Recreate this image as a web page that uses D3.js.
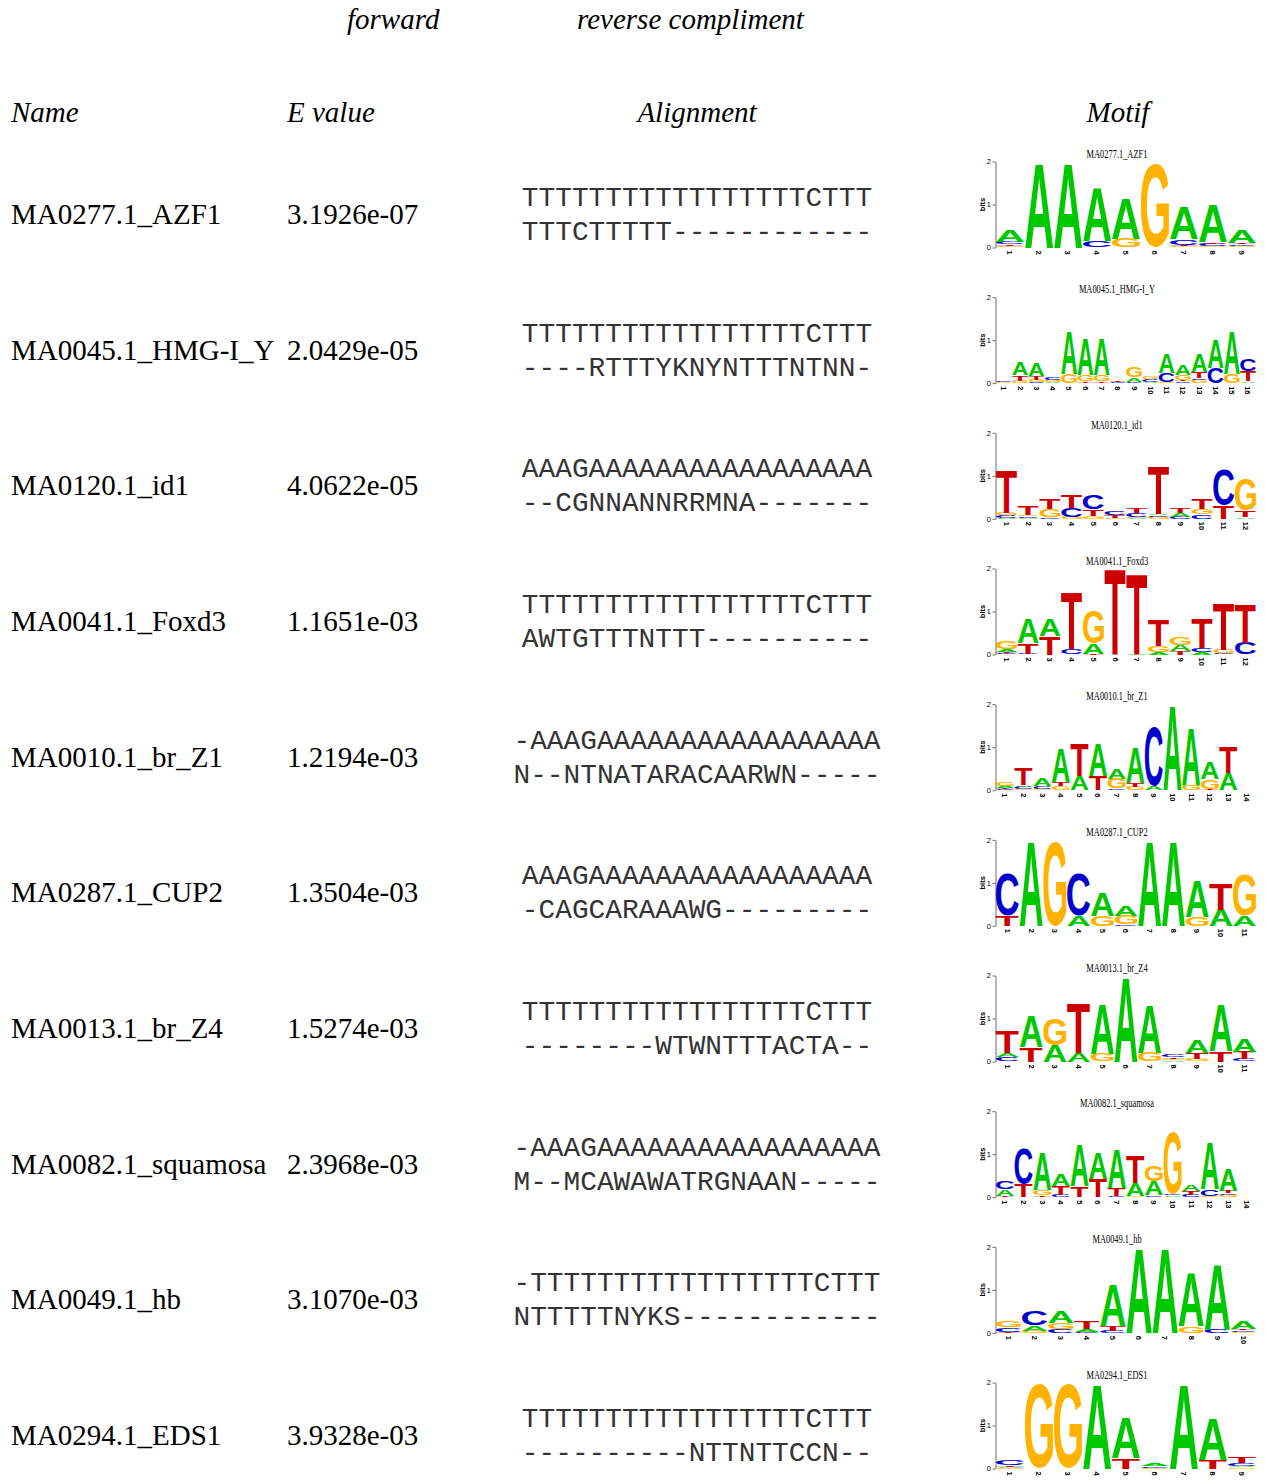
<!DOCTYPE html>
<html>
<head>
<meta charset="utf-8">
<script src="https://cdn.jsdelivr.net/npm/d3@7"></script>
<style>
  body { margin: 0; background: #fff; }
  svg { display: block; }
</style>
</head>
<body>
<svg id="chart" width="1265" height="1480"></svg>
<script>
// table rows
var motifNames = ["MA0277.1_AZF1", "MA0045.1_HMG-I_Y", "MA0120.1_id1", "MA0041.1_Foxd3", "MA0010.1_br_Z1",
  "MA0287.1_CUP2", "MA0013.1_br_Z4", "MA0082.1_squamosa", "MA0049.1_hb", "MA0294.1_EDS1"];
var eValues = ["3.1926e-07", "2.0429e-05", "4.0622e-05", "1.1651e-03", "1.2194e-03",
  "1.3504e-03", "1.5274e-03", "2.3968e-03", "3.1070e-03", "3.9328e-03"];
var alignTop = [
  "TTTTTTTTTTTTTTTTTCTTT", "TTTTTTTTTTTTTTTTTCTTT", "AAAGAAAAAAAAAAAAAAAAA", "TTTTTTTTTTTTTTTTTCTTT",
  "-AAAGAAAAAAAAAAAAAAAAA", "AAAGAAAAAAAAAAAAAAAAA", "TTTTTTTTTTTTTTTTTCTTT", "-AAAGAAAAAAAAAAAAAAAAA",
  "-TTTTTTTTTTTTTTTTTCTTT", "TTTTTTTTTTTTTTTTTCTTT"];
var alignBottom = [
  "TTTCTTTTT------------", "----RTTTYKNYNTTTNTNN-", "--CGNNANNRRMNA-------", "AWTGTTTNTTT----------",
  "N--NTNATARACAARWN-----", "-CAGCARAAAWG---------", "--------WTWNTTTACTA--", "M--MCAWAWATRGNAAN-----",
  "NTTTTTNYKS------------", "----------NTTNTTCCN--"];

// logo stacks, bottom to top, heights in bits
var logoAZF1 = [
  [["G",0.03],["T",0.04],["C",0.05],["A",0.26]], [["A",1.95]], [["A",1.95]],
  [["C",0.15],["A",1.24]], [["G",0.2],["A",0.93]], [["G",1.94]],
  [["G",0.03],["T",0.03],["C",0.13],["A",0.76]], [["G",0.03],["C",0.05],["T",0.04],["A",0.88]],
  [["G",0.03],["C",0.04],["T",0.03],["A",0.3]]];
var logoHMG = [
  [["G",0.02],["C",0.02]], [["G",0.06],["T",0.12],["A",0.3]], [["C",0.03],["G",0.05],["T",0.08],["A",0.29]],
  [["A",0.02],["G",0.06],["C",0.07]], [["G",0.22],["A",0.98]], [["T",0.04],["G",0.15],["A",0.84]],
  [["T",0.04],["G",0.15],["A",0.84]], [["C",0.02],["T",0.03]], [["C",0.03],["A",0.1],["G",0.23]],
  [["A",0.03],["C",0.07],["G",0.07]], [["G",0.03],["C",0.2],["A",0.45]], [["C",0.04],["T",0.03],["G",0.12],["A",0.25]],
  [["G",0.08],["C",0.03],["T",0.14],["A",0.42]], [["C",0.35],["A",0.66]], [["G",0.22],["A",0.98]],
  [["A",0.04],["T",0.24],["C",0.27]]];
var logoId1 = [
  [["A",0.03],["C",0.05],["G",0.05],["T",0.98]], [["A",0.03],["C",0.04],["G",0.03],["T",0.2]],
  [["C",0.04],["G",0.18],["T",0.25]], [["G",0.05],["C",0.2],["T",0.3]], [["G",0.06],["T",0.16],["C",0.32]],
  [["G",0.03],["T",0.05],["C",0.1]], [["A",0.02],["G",0.03],["C",0.08],["T",0.13]],
  [["G",0.05],["C",0.03],["A",0.04],["T",1.13]], [["C",0.05],["A",0.08],["T",0.13]],
  [["C",0.1],["G",0.12],["T",0.24]], [["T",0.3],["C",0.82]], [["A",0.04],["T",0.15],["G",0.72]]];
var logoFoxd3 = [
  [["C",0.03],["T",0.03],["A",0.06],["G",0.17]], [["C",0.02],["T",0.25],["A",0.57]], [["T",0.42],["A",0.38]],
  [["C",0.12],["T",1.33]], [["T",0.02],["A",0.24],["G",0.77]], [["T",2.0]], [["A",0.02],["T",1.87]],
  [["A",0.05],["G",0.15],["T",0.6]], [["T",0.08],["A",0.15],["G",0.18]], [["A",0.06],["C",0.1],["T",0.69]],
  [["C",0.03],["G",0.08],["T",1.1]], [["C",0.27],["T",0.91]]];
var logoBrZ1 = [
  [["C",0.02],["T",0.02],["A",0.06],["G",0.1]], [["G",0.02],["C",0.05],["A",0.04],["T",0.38]],
  [["G",0.03],["C",0.07],["A",0.18]], [["G",0.1],["T",0.1],["A",0.79]], [["A",0.33],["T",0.75]],
  [["T",0.32],["A",0.74]], [["C",0.04],["G",0.23],["A",0.23]], [["G",0.08],["T",0.08],["A",0.82]],
  [["A",0.1],["C",1.37]], [["A",1.97]], [["G",0.13],["A",1.33]], [["T",0.03],["G",0.22],["A",0.38]],
  [["A",0.4],["T",0.6]], []];
var logoCUP2 = [
  [["T",0.25],["C",0.98]], [["A",1.95]], [["G",1.95]], [["A",0.25],["C",0.98]], [["G",0.24],["A",0.54]],
  [["C",0.04],["G",0.2],["A",0.24]], [["A",1.95]], [["A",1.95]], [["G",0.2],["A",0.85]],
  [["A",0.38],["T",0.6]], [["A",0.25],["G",0.95]]];
var logoBrZ4 = [
  [["C",0.1],["A",0.1],["T",0.52]], [["T",0.33],["A",0.73]], [["A",0.38],["G",0.62]], [["A",0.2],["T",1.14]],
  [["G",0.18],["A",1.14]], [["A",1.95]], [["G",0.2],["A",1.12]], [["A",0.03],["G",0.04],["T",0.03],["C",0.06]],
  [["G",0.05],["T",0.15],["A",0.3]], [["T",0.25],["A",1.1]], [["C",0.06],["T",0.17],["A",0.29]]];
var logoSquamosa = [
  [["T",0.03],["A",0.15],["C",0.17]], [["T",0.3],["C",0.82]], [["T",0.04],["G",0.13],["A",0.88]],
  [["C",0.05],["T",0.22],["A",0.27]], [["T",0.25],["A",0.96]], [["T",0.43],["A",0.6]],
  [["C",0.03],["T",0.18],["A",0.9]], [["G",0.03],["A",0.3],["T",0.62]], [["C",0.04],["A",0.34],["G",0.37]],
  [["A",0.04],["C",0.03],["G",1.45]], [["C",0.06],["T",0.08],["A",0.16]], [["G",0.03],["C",0.16],["A",1.1]],
  [["G",0.05],["C",0.04],["T",0.05],["A",0.5]], []];
var logoHb = [
  [["T",0.03],["C",0.1],["G",0.16]], [["G",0.05],["A",0.13],["C",0.34]], [["C",0.08],["G",0.15],["A",0.28]],
  [["C",0.03],["A",0.06],["T",0.19]], [["C",0.05],["T",0.12],["A",0.95]], [["A",1.97]], [["A",1.97]],
  [["G",0.15],["A",1.24]], [["C",0.08],["A",1.52]], [["G",0.03],["C",0.03],["T",0.04],["A",0.19]]];
var logoEDS1 = [
  [["G",0.02],["A",0.02],["T",0.03],["C",0.13]], [["G",1.95]], [["G",1.95]], [["A",1.95]],
  [["T",0.25],["A",0.93]], [["G",0.02],["C",0.04],["A",0.07]], [["A",1.95]], [["T",0.2],["A",0.96]],
  [["G",0.03],["A",0.02],["C",0.07],["T",0.15]]];

var logos = [logoAZF1, logoHMG, logoId1, logoFoxd3, logoBrZ1, logoCUP2, logoBrZ4, logoSquamosa, logoHb, logoEDS1];
var bitTicks = [0, 1, 2];

var baseColors = {A: "#00c800", C: "#0000cc", G: "#ffb300", T: "#cc0000"};

var svg = d3.select("#chart");
var serif = "'Liberation Serif', 'Times New Roman', serif";
var sans = "'Liberation Sans', Arial, sans-serif";
var mono = "'Liberation Mono', 'Courier New', monospace";
var rowStep = 135.67;

// headers
svg.append("text").attr("x", 347).attr("y", 29).attr("font-family", serif).attr("font-style", "italic")
  .attr("font-size", 29).text("forward");
svg.append("text").attr("x", 577).attr("y", 29).attr("font-family", serif).attr("font-style", "italic")
  .attr("font-size", 29).text("reverse compliment");

var heads = [["Name", 11, "start"], ["E value", 287, "start"], ["Alignment", 697, "middle"], ["Motif", 1118, "middle"]];
heads.forEach(function (h) {
  svg.append("text").attr("x", h[1]).attr("y", 122).attr("text-anchor", h[2])
    .attr("font-family", serif).attr("font-style", "italic").attr("font-size", 29).text(h[0]);
});

// ink box of each base glyph, measured once on a canvas
var glyph = {};
var ctx = document.createElement("canvas").getContext("2d");
ctx.font = "bold 100px 'Liberation Sans', Arial, sans-serif";
["A", "C", "G", "T"].forEach(function (b) {
  var m = ctx.measureText(b);
  glyph[b] = {
    left: m.actualBoundingBoxLeft, right: m.actualBoundingBoxRight,
    ascent: m.actualBoundingBoxAscent, descent: m.actualBoundingBoxDescent
  };
});

motifNames.forEach(function (name, i) {
  var cy = 213 + i * rowStep;

  svg.append("text").attr("x", 11).attr("y", cy + 11).attr("font-family", serif)
    .attr("font-size", 29).text(name);
  svg.append("text").attr("x", 287).attr("y", cy + 11).attr("font-family", serif)
    .attr("font-size", 29).text(eValues[i]);

  svg.append("text").attr("x", 697).attr("y", cy - 7).attr("text-anchor", "middle")
    .attr("font-family", mono).attr("font-size", 27.8).attr("fill", "#333").text(alignTop[i]);
  svg.append("text").attr("x", 697).attr("y", cy + 27).attr("text-anchor", "middle")
    .attr("font-family", mono).attr("font-size", 27.8).attr("fill", "#333").text(alignBottom[i]);

  drawLogo(logos[i], name, cy + 34.5);
});

function drawLogo(logo, name, zero) {
  var g = svg.append("g");
  var y = d3.scaleLinear().domain([0, 2]).range([zero, zero - 86]);
  var x = d3.scaleBand().domain(d3.range(1, logo.length + 1)).range([996, 1256]).paddingInner(0.03);

  g.append("g").attr("transform", "translate(" + 995.5 + ",0)")
    .call(d3.axisLeft(y).tickValues(bitTicks).tickFormat(d3.format("d"))
      .tickSize(3).tickSizeOuter(0).tickPadding(1.5))
    .call(function (a) {
      a.select(".domain").attr("stroke", "#444").attr("stroke-width", 0.8);
      a.selectAll(".tick line").attr("stroke", "#444").attr("stroke-width", 0.8);
      a.selectAll("text").attr("font-family", sans).attr("font-size", 7.5).attr("fill", "#000");
    });

  g.append("text").attr("transform", "translate(984.5," + y(1) + ") rotate(-90)")
    .attr("text-anchor", "middle").attr("font-family", sans).attr("font-weight", "bold")
    .attr("font-size", 7.5).text("bits");

  g.append("g").attr("transform", "translate(1117," + (zero - 90) + ") scale(0.7,1)")
    .append("text").attr("text-anchor", "middle").attr("font-family", serif).attr("font-size", 12)
    .text(name);

  logo.forEach(function (stack, p) {
    var pos = p + 1;
    var x0 = x(pos), w = x.bandwidth();
    var base = 0;
    stack.forEach(function (s) {
      var b = s[0], bits = s[1];
      var gb = glyph[b];
      var inkW = gb.left + gb.right, inkH = gb.ascent + gb.descent;
      var yb = y(base), h = yb - y(base + bits);
      g.append("text")
        .attr("transform", "translate(" + x0 + "," + yb + ") scale(" + (w / inkW) + "," + (h / inkH) + ") translate(" + gb.left + "," + (-gb.descent) + ")")
        .attr("font-family", sans).attr("font-weight", "bold").attr("font-size", 100)
        .attr("fill", baseColors[b]).text(b);
      base += bits;
    });

    g.append("text")
      .attr("transform", "translate(" + (x0 + w / 2) + "," + (zero + 3) + ") rotate(90)")
      .attr("dy", "0.35em").attr("font-family", sans).attr("font-weight", "bold")
      .attr("font-size", 7.5).text(pos);
  });
}
</script>
</body>
</html>
